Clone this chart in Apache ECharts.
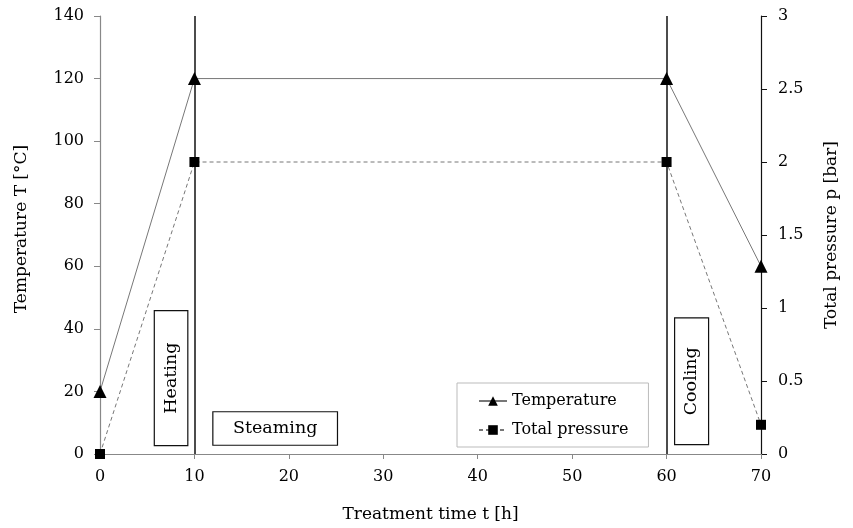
<!DOCTYPE html>
<html>
<head>
<meta charset="utf-8">
<script src="https://cdn.jsdelivr.net/npm/echarts@6/dist/echarts.min.js"></script>
<style>
  html, body { margin: 0; padding: 0; background: #fff; }
  #chart { width: 853px; height: 528px; }
</style>
</head>
<body>
<div id="chart"></div>
<script>
const timeHours = [0, 10, 60, 70]
const temperature = [20, 120, 120, 60]
const pressure = [0, 2, 2, 0.2]
const phaseLines = [10, 60]
// phase boxes in data units: [x0, x1, yTop, yBottom] on the temperature axis
const phaseBoxes = [
  { label: 'Heating', box: [5.75, 9.3, 45.8, 2.7], vertical: true },
  { label: 'Steaming', box: [11.95, 25.15, 13.5, 2.8], vertical: false },
  { label: 'Cooling', box: [60.85, 64.45, 43.5, 3.0], vertical: true }
]

const font = 'DejaVu Serif'
const chart = echarts.init(document.getElementById('chart'))

chart.setOption({
  animation: false,
  textStyle: { fontFamily: font },
  grid: { left: 100, right: 92, top: 16, bottom: 72 },
  legend: {
    orient: 'vertical',
    left: 457, top: 383,
    padding: [10, 20, 9, 21],
    itemGap: 13,
    itemWidth: 28, itemHeight: 12,
    borderColor: '#bbb', borderWidth: 1, borderRadius: 0,
    textStyle: { fontFamily: font, fontSize: 16, color: '#000' },
    data: ['Temperature', 'Total pressure']
  },
  xAxis: {
    type: 'value', min: 0, max: 70, interval: 10,
    name: 'Treatment time t [h]', nameLocation: 'middle', nameGap: 52,
    nameTextStyle: { fontFamily: font, fontSize: 17, color: '#000' },
    axisLine: { lineStyle: { color: '#888', width: 1.2 } },
    axisTick: { inside: false, length: 5, lineStyle: { color: '#888' } },
    axisLabel: { fontFamily: font, fontSize: 16, color: '#000', margin: 15 },
    splitLine: { show: false }
  },
  yAxis: [{
    type: 'value', min: 0, max: 140, interval: 20,
    name: 'Temperature T [°C]', nameLocation: 'middle', nameGap: 70,
    nameTextStyle: { fontFamily: font, fontSize: 17, color: '#000', padding: [0, 0, 0, 12] },
    axisLine: { show: true, lineStyle: { color: '#888', width: 1.2 } },
    axisTick: { show: true, length: 6, lineStyle: { color: '#888' } },
    axisLabel: { fontFamily: font, fontSize: 16, color: '#000', margin: 16 },
    splitLine: { show: false }
  }, {
    type: 'value', min: 0, max: 3, interval: 0.5, position: 'right',
    name: 'Total pressure p [bar]', nameLocation: 'middle', nameGap: 62,
    nameTextStyle: { fontFamily: font, fontSize: 17, color: '#000' },
    axisLine: { show: true, lineStyle: { color: '#111', width: 1.2 } },
    axisTick: { show: true, length: 6, lineStyle: { color: '#111' } },
    axisLabel: { fontFamily: font, fontSize: 16, color: '#000', margin: 17 },
    splitLine: { show: false }
  }],
  series: [{
    name: 'Temperature',
    type: 'line',
    yAxisIndex: 0,
    data: timeHours.map((t, i) => [t, temperature[i]]),
    symbol: 'triangle', symbolSize: 13,
    itemStyle: { color: '#000' },
    lineStyle: { color: '#777', width: 1 },
    z: 5,
    markLine: {
      silent: true, symbol: 'none', label: { show: false },
      lineStyle: { color: '#111', width: 1.5, type: 'solid' },
      data: phaseLines.map((x) => ({ xAxis: x }))
    }
  }, {
    name: 'Total pressure',
    type: 'line',
    yAxisIndex: 1,
    data: timeHours.map((t, i) => [t, pressure[i]]),
    symbol: 'rect', symbolSize: 10,
    itemStyle: { color: '#000' },
    lineStyle: { color: '#777', width: 1, type: [4, 3] },
    z: 5
  }]
})

function drawBoxes() {
  const graphic = phaseBoxes.map((p) => {
    const a = chart.convertToPixel({ xAxisIndex: 0, yAxisIndex: 0 }, [p.box[0], p.box[2]])
    const b = chart.convertToPixel({ xAxisIndex: 0, yAxisIndex: 0 }, [p.box[1], p.box[3]])
    const w = b[0] - a[0], h = b[1] - a[1]
    return {
      type: 'group',
      children: [{
        type: 'rect',
        shape: { x: a[0], y: a[1], width: w, height: h },
        style: { fill: '#fff', stroke: '#111', lineWidth: 1.2 }
      }, {
        type: 'text',
        x: a[0] + w / 2, y: a[1] + h / 2,
        rotation: p.vertical ? Math.PI / 2 : 0,
        style: {
          text: p.label, fontFamily: font, fontSize: 17.5, fill: '#000',
          align: 'center', verticalAlign: 'middle'
        }
      }]
    }
  })
  chart.setOption({ graphic })
}
drawBoxes()
</script>
</body>
</html>
